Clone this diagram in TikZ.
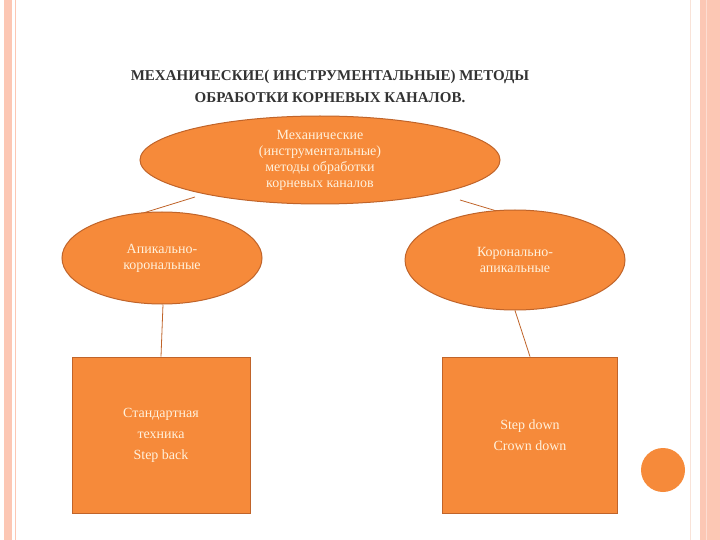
\documentclass[tikz,border=0pt]{standalone}
\usepackage{fontspec}
\setmainfont{Liberation Serif}
\usetikzlibrary{shapes.geometric}
\definecolor{org}{HTML}{F68A3A}
\definecolor{edg}{HTML}{C0642A}
\definecolor{txt}{HTML}{FFF1DC}
\definecolor{pnk}{HTML}{FCC7B4}
\begin{document}
\begin{tikzpicture}[x=1pt,y=-1pt,
  ell/.style={ellipse,fill=org,draw=edg,line width=1pt,text=txt,align=center,font=\fontsize{14}{16}\selectfont,inner sep=0pt},
  box/.style={rectangle,fill=org,draw=edg,line width=0.8pt,text=txt,align=center,font=\fontsize{14}{21}\selectfont},
  con/.style={draw=edg,line width=0.8pt}]
\useasboundingbox (0,0) rectangle (720,540);
\fill[white] (0,0) rectangle (720,540);
\fill[pnk] (4,0) rectangle (12,540);
\draw[pnk,line width=1pt] (15,0) -- (15,540);
\draw[pnk!80!brown!40,line width=1pt] (690,0) -- (690,540);
\fill[pnk] (700,0) rectangle (720,540);
\draw[pnk!60!white,line width=1pt] (706,0) -- (706,540);
\node[font=\bfseries\fontsize{15}{22}\selectfont,text=black!80,align=center] (title) at (330,86) {МЕХАНИЧЕСКИЕ( ИНСТРУМЕНТАЛЬНЫЕ) МЕТОДЫ\\ОБРАБОТКИ КОРНЕВЫХ КАНАЛОВ.};
\coordinate (a1) at (195,197); \coordinate (a2) at (140,214);
\coordinate (b1) at (460,200); \coordinate (b2) at (520,218);
\draw[con] (a1) -- (a2);
\draw[con] (b1) -- (b2);
\node[ell,minimum width=360,minimum height=88] (top) at (320,160) {Механические\\(инструментальные)\\методы обработки\\корневых каналов};
\node[ell,minimum width=200,minimum height=92] (left) at (162,258) {Апикально-\\корональные};
\node[ell,minimum width=220,minimum height=100] (right) at (515,260) {Коронально-\\апикальные};
\node[box,minimum width=178,minimum height=156] (lb) at (161,435) {Стандартная\\техника\\Step back};
\node[box,minimum width=175,minimum height=156] (rb) at (530,435) {Step down\\Crown down};
\draw[con] (left.south) ++(1,0) -- (lb.north);
\draw[con] (right.south) -- (rb.north);
\fill[org] (663,470) circle (22);
\end{tikzpicture}
\end{document}
